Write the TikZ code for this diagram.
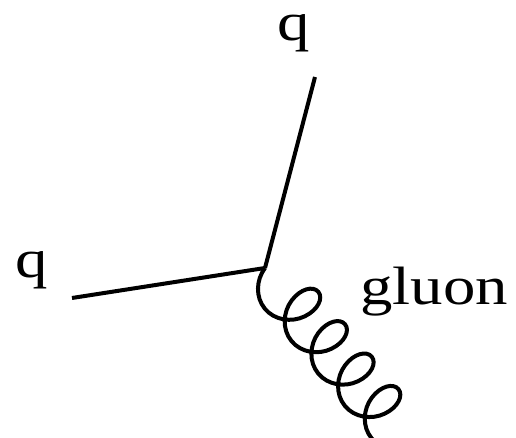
\documentclass[tikz,border=0pt]{standalone}
\usepackage{fontspec}
\setmainfont{Liberation Serif}
\usetikzlibrary{calc,decorations.pathmorphing,positioning}
\tikzset{
  quark/.style={line width=4pt,black},
  glu/.style={line width=4pt,black,decorate,decoration={coil,mirror,aspect=0.8,segment length=42pt,amplitude=26pt,pre length=0pt,post length=0pt}},
  lbl/.style={font=\fontsize{54}{60}\selectfont,inner sep=0pt,anchor=base west}
}
\newcommand{\wide}[1]{\scalebox{1.2}[1]{#1}}
\begin{document}
\begin{tikzpicture}[x=1pt,y=1pt]
\useasboundingbox (0,0) rectangle (516,438);
\clip (0,0) rectangle (516,438);
\coordinate (v) at (265,170);
\coordinate (qin) at (72,140);
\coordinate (qout) at (315,361);
\coordinate (gend) at ($(v)!1.18!(405,0)$);
\draw[quark] (qin) -- (v);
\draw[quark] (v) -- (qout);
\draw[glu] (v) -- (gend);
\node[lbl] (lq1) at (15,160) {\wide{q}};
\node[lbl] (lq2) at (277,397) {\wide{q}};
\node[lbl] (lg) at (360,133) {\wide{gluon}};
\end{tikzpicture}
\end{document}
